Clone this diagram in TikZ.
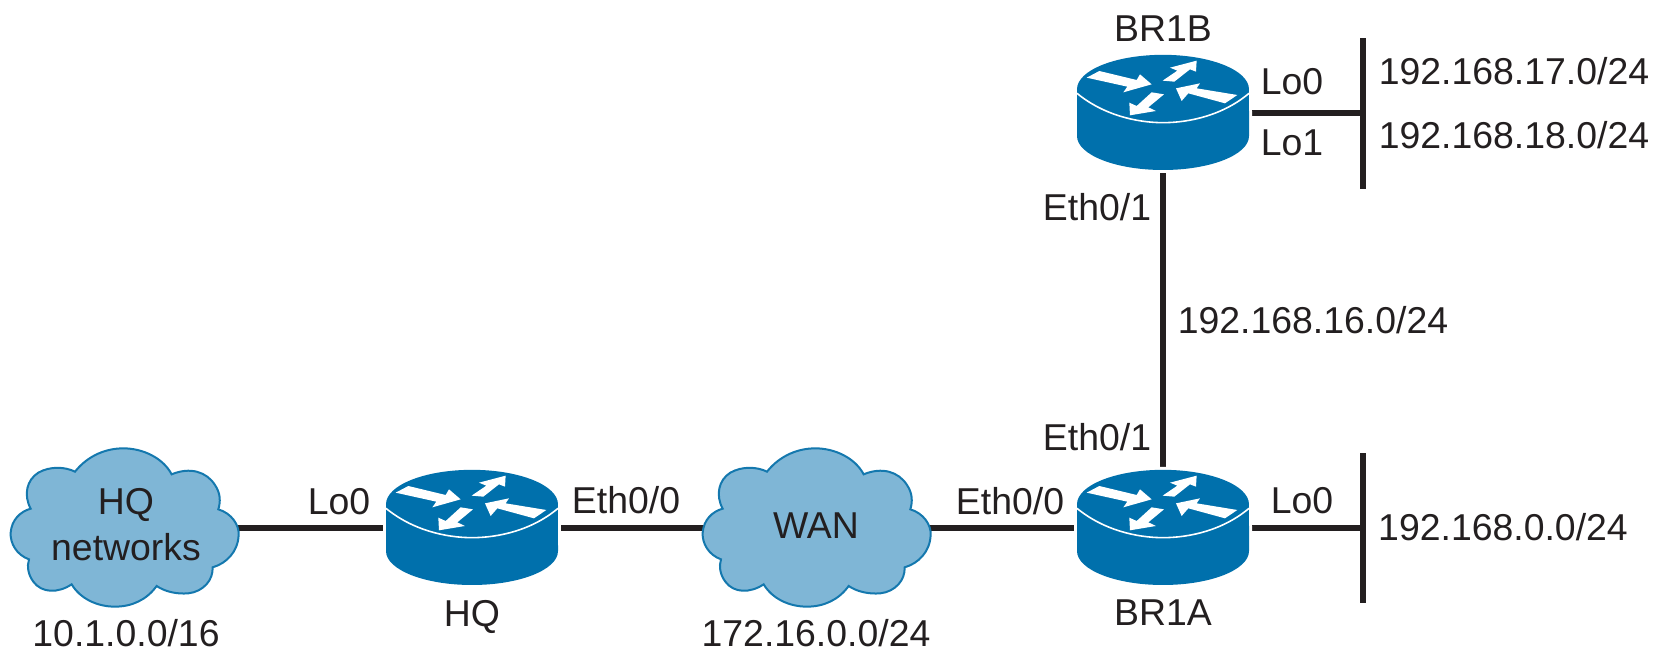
\documentclass[tikz,border=0pt]{standalone}
\usepackage{fontspec}
\setmainfont{Liberation Sans}
\definecolor{routerblue}{HTML}{0070AC}
\definecolor{cloudfill}{HTML}{7FB6D6}
\definecolor{cloudline}{HTML}{1478AE}
\definecolor{inkdark}{HTML}{231F20}
\tikzset{
  link/.style={draw=inkdark,line width=6pt},
  bus/.style={draw=inkdark,line width=6pt},
  lab/.style={text=inkdark,inner sep=0pt,font=\fontsize{37.4}{46}\selectfont,text height=26pt,text depth=0pt},
  multilab/.style={text=inkdark,inner sep=0pt,font=\fontsize{37.4}{46}\selectfont,align=center},
  routerbox/.style={inner sep=0pt,minimum width=172pt,minimum height=115pt},
  cloudbox/.style={inner sep=0pt,minimum width=230pt,minimum height=160pt}
}
\newcommand{\routericon}[2]{%
  \begin{scope}[shift={(#1,#2)},x=0.3333pt,y=-0.3333pt]
    \draw[white,line width=6pt] (111,180) -- (111,318) arc[start angle=180,end angle=360,x radius=86pt,y radius=34pt] -- (627,180);
    \draw[white,line width=6pt] (369,178) ellipse[x radius=86pt,y radius=34.5pt];
    \fill[routerblue] (111,180) -- (111,318) arc[start angle=180,end angle=360,x radius=86pt,y radius=34pt] -- (627,180) -- cycle;
    \fill[routerblue] (369,178) ellipse[x radius=86pt,y radius=34.5pt];
    \draw[white,line width=1.6pt] (111,190) .. controls (190,255) and (290,278) .. (369,278) .. controls (450,278) and (550,255) .. (627,190);
    \fill[white] (140,143) -- (178,123) -- (290,150) -- (300,133) -- (335,163) -- (250,187) -- (262,170) -- cycle;
    \fill[white] (368,152) -- (412,122) -- (390,113) -- (470,92) -- (468,125) -- (450,118) -- (403,155) -- cycle;
    \fill[white] (408,175) -- (480,160) -- (470,175) -- (592,195) -- (555,220) -- (445,190) -- (425,213) -- cycle;
    \fill[white] (335,187) -- (372,193) -- (325,232) -- (348,243) -- (270,256) -- (268,218) -- (290,228) -- cycle;
  \end{scope}}
\newcommand{\cloudicon}[2]{%
  \begin{scope}[shift={(#1,#2)},x=0.3333pt,y=-0.3333pt]
    \filldraw[fill=cloudfill,draw=cloudline,line width=2pt]
      (225,125) .. controls (265,75) and (320,55) .. (370,55)
      .. controls (430,55) and (490,85) .. (515,133)
      .. controls (570,110) and (620,125) .. (645,165)
      .. controls (662,190) and (662,215) .. (655,238)
      .. controls (695,250) and (718,285) .. (716,315)
      .. controls (714,365) and (680,400) .. (638,412)
      .. controls (640,450) and (610,485) .. (565,490)
      .. controls (530,493) and (495,485) .. (470,468)
      .. controls (440,510) and (395,530) .. (345,530)
      .. controls (290,530) and (240,505) .. (215,463)
      .. controls (175,490) and (125,490) .. (100,455)
      .. controls (85,435) and (80,410) .. (87,388)
      .. controls (50,375) and (30,340) .. (32,308)
      .. controls (35,270) and (60,245) .. (92,236)
      .. controls (70,195) and (80,150) .. (115,128)
      .. controls (150,108) and (195,110) .. (225,125) -- cycle;
  \end{scope}}
\begin{document}
\begin{tikzpicture}[x=1pt,y=-1pt]
\useasboundingbox (0,0) rectangle (1671,651);
% invisible anchors for nodes
\node[routerbox] (brb) at (1163,112.5) {};
\node[routerbox] (bra) at (1163,527.5) {};
\node[routerbox] (hq) at (472,527.5) {};
\node[cloudbox] (hqnet) at (125,527.5) {};
\node[cloudbox] (wan) at (816,527.5) {};
\coordinate (busb) at (1363,112.5);
\coordinate (busbt) at (1363,38);
\coordinate (busbb) at (1363,189);
\coordinate (busa) at (1363,527.5);
\coordinate (busat) at (1363,453);
\coordinate (busab) at (1363,603);
% connectors
\draw[link] (brb.south) -- (bra.north);
\draw[link] (brb.east) -- (busb);
\draw[bus] (busbt) -- (busbb);
\draw[bus] (busat) -- (busab);
\draw[link] (hqnet.center) -- (hq.center);
\draw[link] (hq.center) -- (wan.center);
\draw[link] (wan.center) -- (bra.center);
\draw[link] (bra.center) -- (busa);
% icons
\cloudicon{0}{430}
\cloudicon{692}{430}
\routericon{1040}{30}
\routericon{1040}{445}
\routericon{349}{445}
% labels
\node[lab] (t1) at (1163,28) {BR1B};
\node[lab] (t2) at (1292,81) {Lo0};
\node[lab] (t3) at (1292,142) {Lo1};
\node[lab] (t4) at (1514,71) {192.168.17.0/24};
\node[lab] (t5) at (1514,135) {192.168.18.0/24};
\node[lab] (t6) at (1097,207) {Eth0/1};
\node[lab] (t7) at (1313,320) {192.168.16.0/24};
\node[lab] (t8) at (1097,437) {Eth0/1};
\node[lab] (t9) at (1302,500.5) {Lo0};
\node[lab] (t10) at (1503,527) {192.168.0.0/24};
\node[lab] (t11) at (1163,612.5) {BR1A};
\node[lab] (t12) at (1010,501) {Eth0/0};
\node[lab] (t13) at (816,525.5) {WAN};
\node[lab] (t14) at (816,633) {172.16.0.0/24};
\node[lab] (t15) at (626,500) {Eth0/0};
\node[lab] (t16) at (472,613) {HQ};
\node[lab] (t17) at (339,501) {Lo0};
\node[multilab] (t18) at (126,525) {HQ\\networks};
\node[lab] (t19) at (126,633) {10.1.0.0/16};
\end{tikzpicture}
\end{document}
